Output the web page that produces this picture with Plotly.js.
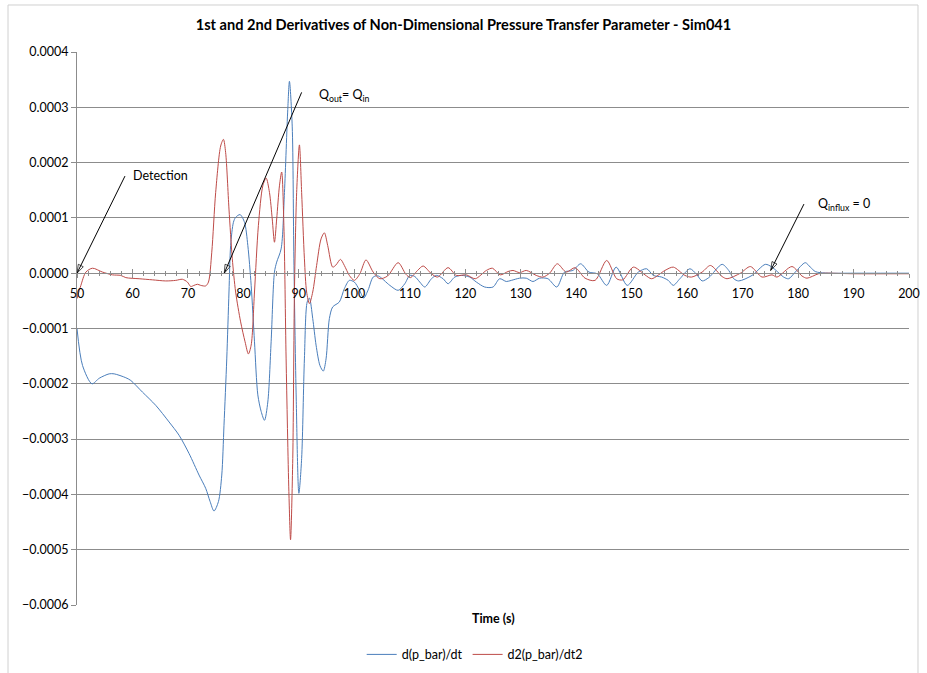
<!DOCTYPE html>
<html>
<head>
<meta charset="utf-8">
<script src="https://cdn.plot.ly/plotly-3.0.1.min.js"></script>
<style>
html, body { margin: 0; padding: 0; background: #ffffff; }
#chart { width: 927px; height: 673px; }
</style>
</head>
<body>
<div id="chart"></div>
<script>
// ---- data ----
const chartTitle = "1st and 2nd Derivatives of Non-Dimensional Pressure Transfer Parameter - Sim041";
const xTitle = "Time (s)";
const name1 = "d(p_bar)/dt";
const name2 = "d2(p_bar)/dt2";

const t1 = [50, 51, 52.7, 54, 55.8, 56.7, 58.8, 59.7, 61.8, 64.2, 66.6, 68.4, 70.2, 72, 73.2, 74, 74.7, 75.5, 76.1, 76.5,
  77, 77.4, 77.7, 78.2, 78.6, 79.4, 80.2, 80.8, 81.4, 82, 82.6, 83.2, 83.8, 84.4, 85, 85.6, 86.0, 86.8, 87.4, 88,
  88.3, 88.8, 89.1, 89.5, 90, 90.5, 91, 91.5, 91.9, 92.5, 93.1, 93.8, 94.4, 94.9, 95.5, 96.1, 97.3, 98.2, 99.1, 100,
  100.9, 101.7, 102.5, 103.4, 104.3, 106.4, 107.9, 109.1, 110, 110.9, 111.8, 112.7, 113.9, 114.8, 116, 116.9, 118.1, 119.3, 120.8, 122,
  123.5, 125, 126.2, 127.4, 128.3, 129.8, 131, 132.2, 133.4, 134.9, 136.5, 137.9, 139.4, 140.8, 142.3, 143.8, 145.5, 147.2, 149.2, 151.2,
  152.7, 153.9, 155.4, 156.6, 157.5, 158.7, 160.5, 161.7, 162.7, 163.9, 166.3, 167.5, 168.4, 169.3, 171.7, 174.1, 175.3, 177.4, 178.3, 179.5,
  181.3, 182.2, 183.1, 184, 186, 190, 200];
const d1 = [-1.00e-4, -1.67e-4, -2.00e-4, -1.90e-4, -1.82e-4, -1.82e-4, -1.89e-4, -1.94e-4, -2.15e-4, -2.39e-4, -2.69e-4, -2.93e-4, -3.26e-4, -3.65e-4, -3.89e-4, -4.13e-4, -4.30e-4, -4.13e-4, -3.65e-4, -2.75e-4,
  -1.55e-4, -0.34e-4, 0.50e-4, 0.92e-4, 1.01e-4, 1.06e-4, 0.92e-4, 0.50e-4, -0.22e-4, -1.24e-4, -2.20e-4, -2.50e-4, -2.66e-4, -2.33e-4, -1.24e-4, 0.02e-4, 0.20e-4, 0.44e-4, 1.46e-4, 2.96e-4,
  3.47e-4, 2.66e-4, 0.26e-4, -2.15e-4, -3.98e-4, -3.35e-4, -1.55e-4, -0.52e-4, -0.45e-4, -0.82e-4, -1.30e-4, -1.67e-4, -1.77e-4, -1.55e-4, -0.82e-4, -0.61e-4, -0.52e-4, -0.28e-4, -0.13e-4, -0.16e-4,
  -0.30e-4, -0.45e-4, -0.30e-4, -0.07e-4, -0.05e-4, -0.22e-4, -0.31e-4, -0.19e-4, -0.04e-4, -0.06e-4, -0.16e-4, -0.25e-4, -0.10e-4, -0.04e-4, -0.10e-4, -0.19e-4, -0.07e-4, -0.04e-4, -0.07e-4, -0.16e-4,
  -0.25e-4, -0.25e-4, -0.10e-4, -0.15e-4, -0.13e-4, -0.09e-4, -0.09e-4, -0.15e-4, -0.09e-4, -0.10e-4, -0.25e-4, 0.02e-4, 0.05e-4, 0.17e-4, 0.02e-4, -0.01e-4, -0.22e-4, 0.11e-4, -0.22e-4, 0.02e-4,
  0.08e-4, -0.04e-4, -0.07e-4, -0.13e-4, -0.22e-4, -0.10e-4, 0.08e-4, -0.02e-4, -0.14e-4, -0.08e-4, 0.16e-4, 0.05e-4, -0.10e-4, -0.14e-4, -0.04e-4, 0.16e-4, 0.11e-4, -0.07e-4, -0.10e-4, 0.02e-4,
  0.19e-4, 0.11e-4, 0.03e-4, 0.01e-4, 0.00, 0.00, 0.00];

const t2 = [50, 50.7, 51.6, 52.8, 54.6, 56.4, 57.9, 58.8, 61.2, 63.6, 66, 67.8, 69, 69.9, 70.5, 71.1, 71.7, 72.3, 73.2, 73.7,
  74.3, 75, 75.9, 76.4, 76.8, 77.4, 78, 78.6, 79.5, 80.3, 80.9, 81.4, 82, 82.7, 83.5, 84.1, 84.7, 85.2, 85.6, 86,
  86.5, 86.9, 87.3, 87.7, 88.2, 88.5, 88.9, 89.2, 89.6, 90.1, 90.5, 91, 91.4, 91.9, 92.5, 93.2, 94, 94.6, 95.2, 96.1,
  96.7, 97.5, 98.2, 99.1, 100, 101, 102.1, 103.4, 104.6, 106, 107.9, 109.3, 110.1, 111.4, 112.4, 113.9, 115, 116.9, 118.4, 120.2,
  121.8, 123.8, 124.9, 126.3, 127.7, 128.6, 129.8, 131, 132.8, 134, 135.2, 136.6, 138.2, 139.8, 141.6, 143.4, 145.5, 147.3, 148.4, 150.3,
  152.4, 153.6, 156, 157.5, 159.6, 160.8, 162.7, 164.2, 166.3, 167.2, 169.6, 171.4, 173.5, 175.3, 176.2, 178.9, 180.7, 181.6, 183.7, 185,
  190, 200];
const d2 = [-0.46e-4, -0.22e-4, 0.02e-4, 0.09e-4, 0.02e-4, -0.03e-4, -0.04e-4, -0.08e-4, -0.10e-4, -0.12e-4, -0.14e-4, -0.13e-4, -0.11e-4, -0.16e-4, -0.24e-4, -0.22e-4, -0.20e-4, -0.22e-4, -0.23e-4, -0.16e-4,
  0.38e-4, 1.46e-4, 2.30e-4, 2.42e-4, 2.18e-4, 1.16e-4, 0.26e-4, -0.34e-4, -0.88e-4, -1.24e-4, -1.46e-4, -1.30e-4, -0.34e-4, 0.86e-4, 1.58e-4, 1.72e-4, 1.46e-4, 0.98e-4, 0.56e-4, 0.98e-4,
  1.58e-4, 1.83e-4, 0.86e-4, -1.55e-4, -3.95e-4, -4.82e-4, -3.35e-4, -0.34e-4, 1.46e-4, 2.32e-4, 1.46e-4, 0.26e-4, -0.34e-4, -0.55e-4, -0.34e-4, 0.14e-4, 0.62e-4, 0.73e-4, 0.50e-4, 0.11e-4,
  0.15e-4, 0.25e-4, 0.14e-4, -0.04e-4, -0.13e-4, -0.01e-4, 0.24e-4, 0.02e-4, -0.10e-4, -0.05e-4, 0.19e-4, -0.02e-4, -0.08e-4, 0.05e-4, 0.13e-4, -0.01e-4, -0.07e-4, 0.10e-4, -0.04e-4, -0.03e-4,
  -0.10e-4, 0.05e-4, 0.09e-4, -0.03e-4, 0.03e-4, 0.05e-4, 0.01e-4, 0.05e-4, -0.04e-4, -0.07e-4, 0.00, 0.17e-4, 0.02e-4, 0.10e-4, -0.09e-4, -0.13e-4, 0.23e-4, -0.10e-4, -0.12e-4, 0.11e-4,
  -0.03e-4, -0.10e-4, 0.05e-4, 0.11e-4, -0.04e-4, -0.07e-4, 0.02e-4, 0.14e-4, -0.06e-4, -0.10e-4, 0.00, 0.12e-4, -0.07e-4, -0.03e-4, -0.07e-4, 0.12e-4, -0.05e-4, -0.09e-4, -0.01e-4, 0.00,
  -0.01e-4, -0.01e-4];

// annotation labels and targets
const noteTexts = ["Detection", "Q<sub>out</sub>= Q<sub>in</sub>", "Q<sub>influx</sub> = 0"];
const noteHeadX = [50, 76.55, 175.06];
const noteHeadY = [0, 0, 0.05e-4];
const noteTailX = [58.65, 90.5, 181.06];
const noteTailY = [1.756e-4, 3.27e-4, 1.25e-4];
const noteTextX = [59.7, 93.27, 183.2];
const noteTextY = [1.77e-4, 3.22e-4, 1.25e-4];

// ---- chart ----
const FONT = "Lato, 'Open Sans', sans-serif";
const GRID = "#8c8c8c";

const traces = [
  { x: t1, y: d1, name: name1, type: "scatter", mode: "lines",
    line: { color: "#4a7ebb", width: 1, shape: "spline", smoothing: 0.8 } },
  { x: t2, y: d2, name: name2, type: "scatter", mode: "lines",
    line: { color: "#be4b48", width: 1, shape: "spline", smoothing: 0.8 } }
];

// arrows: a line from tail to head with an arrow marker at the head
for (let i = 0; i < noteTexts.length; i++) {
  traces.push({
    x: [noteTailX[i], noteHeadX[i]], y: [noteTailY[i], noteHeadY[i]],
    type: "scatter", mode: "lines+markers", showlegend: false, hoverinfo: "skip",
    line: { color: "#000000", width: 1, backoff: 0 },
    marker: { symbol: "arrow-open", angleref: "previous", size: [0, 9],
              color: "#000000", line: { color: "#000000", width: 1 } }
  });
}

const annotations = [];
for (let i = 0; i < noteTexts.length; i++) {
  annotations.push({
    x: noteTextX[i], y: noteTextY[i], xref: "x", yref: "y",
    text: noteTexts[i], showarrow: false, xanchor: "left", yanchor: "middle",
    font: { family: FONT, size: 12.5, color: "#000000" }
  });
}
annotations.push({
  x: 0.5, y: -0.024, xref: "paper", yref: "paper", xanchor: "center", yanchor: "middle",
  text: "<b>" + xTitle + "</b>", showarrow: false,
  font: { family: FONT, size: 12.5, color: "#000000" }
});

const layout = {
  width: 927, height: 673,
  margin: { l: 77, r: 18, t: 52, b: 68, pad: 0, autoexpand: false },
  paper_bgcolor: "#ffffff", plot_bgcolor: "#ffffff",
  font: { family: FONT, size: 12.5, color: "#000000" },
  title: { text: "<b>" + chartTitle + "</b>", x: 0.5, xanchor: "center", y: 0.963, yanchor: "middle",
           font: { family: FONT, size: 14.6, color: "#000000" }, automargin: false },
  showlegend: true,
  legend: { orientation: "h", x: 0.478, xanchor: "center", y: -0.09, yanchor: "middle",
            font: { family: FONT, size: 12.5, color: "#000000" }, bgcolor: "rgba(0,0,0,0)" },
  xaxis: {
    range: [50, 200], dtick: 10, tick0: 50, showgrid: false, zeroline: false,
    anchor: "free", position: 0.6, automargin: false,
    showline: true, linecolor: GRID, linewidth: 1,
    ticks: "outside", ticklen: 4, tickcolor: GRID, tickwidth: 1,
    minor: { dtick: 2, ticks: "outside", ticklen: 2, tickcolor: GRID, tickwidth: 1, showgrid: false },
    ticklabelstandoff: 5,
    tickfont: { family: FONT, size: 12.5, color: "#000000" }
  },
  xaxis2: {
    range: [50, 200], dtick: 10, tick0: 50, showgrid: false, zeroline: false,
    overlaying: "x", anchor: "free", position: 0.6, side: "bottom", automargin: false,
    showline: false, showticklabels: false,
    ticks: "inside", ticklen: 4, tickcolor: GRID, tickwidth: 1,
    minor: { dtick: 2, ticks: "inside", ticklen: 2, tickcolor: GRID, tickwidth: 1, showgrid: false }
  },
  yaxis: {
    range: [-0.0006, 0.0004], dtick: 0.0001, tick0: 0, tickformat: ".4f", automargin: false,
    showgrid: true, gridcolor: GRID, gridwidth: 1, zeroline: false,
    showline: true, linecolor: GRID, linewidth: 1,
    ticks: "outside", ticklen: 5, tickcolor: GRID,
    tickfont: { family: FONT, size: 12.5, color: "#000000" }
  },
  annotations: annotations,
  shapes: [
    { type: "rect", xref: "paper", yref: "paper", x0: -0.0829, x1: 1.0108, y0: -0.14, y1: 1.085,
      line: { color: "#d0d0d0", width: 1 }, fillcolor: "rgba(0,0,0,0)", layer: "below" }
  ]
};

// invisible trace so that xaxis2 (the upper half of the crossing tick marks) is drawn
traces.push({ x: [50], y: [0], xaxis: "x2", yaxis: "y", mode: "markers", marker: { opacity: 0 },
  showlegend: false, hoverinfo: "skip" });

Plotly.newPlot("chart", traces, layout, { displayModeBar: false, staticPlot: true });
</script>
</body>
</html>
